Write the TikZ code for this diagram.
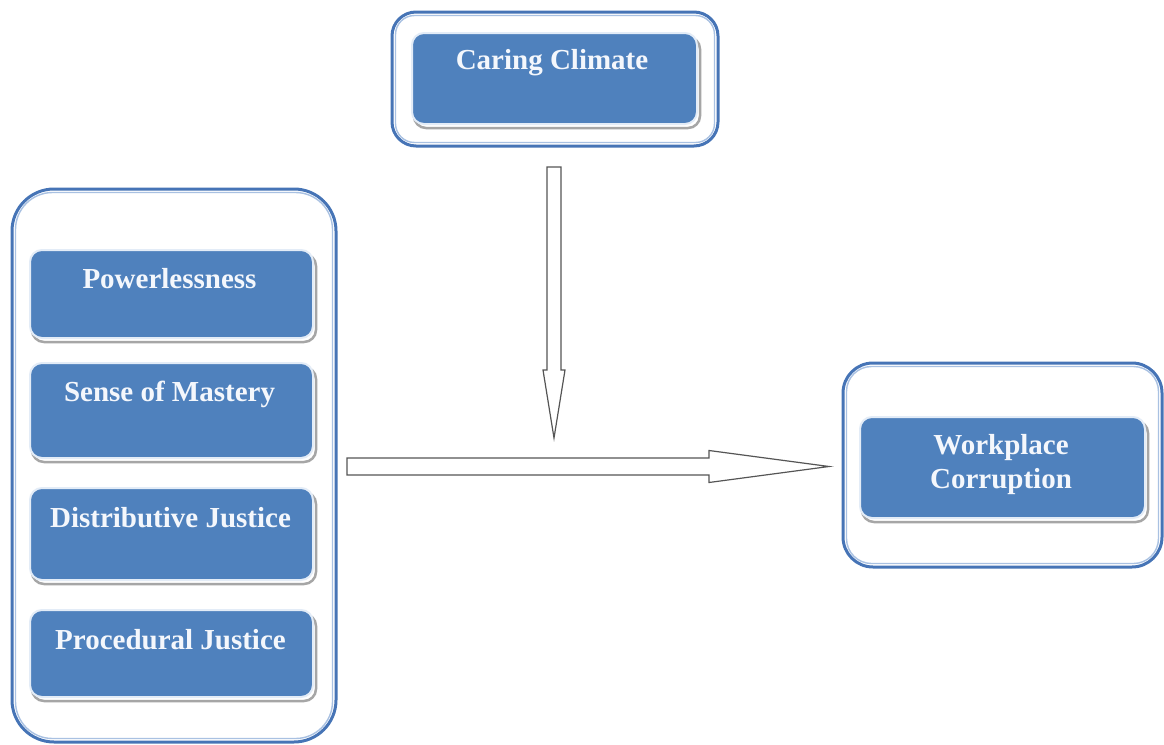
\documentclass[tikz,border=0pt]{standalone}
\usepackage{fontspec}
\setmainfont{Liberation Serif}
\usetikzlibrary{calc}
\definecolor{boxblue}{HTML}{4F81BD}
\definecolor{frameblue}{HTML}{4674B6}
\definecolor{rimblue}{HTML}{A9C1E2}
\definecolor{shadowgrey}{HTML}{A6A6A6}
\definecolor{glow}{HTML}{E3ECF7}
\definecolor{arrowgrey}{HTML}{555555}
\definecolor{labelwhite}{HTML}{F4F7FC}
\begin{document}
\begin{tikzpicture}[x=1pt,y=-1pt,
  frame/.style={draw=frameblue, line width=3pt, fill=white, rounded corners=#1, inner sep=0pt},
  rim/.style={draw=rimblue, line width=1.4pt, rounded corners=#1},
  varbox/.style={draw=glow, line width=2pt, fill=boxblue, rounded corners=12pt, inner sep=0pt},
  boxshadow/.style={draw=shadowgrey, line width=2.5pt, rounded corners=12pt},
  lbl/.style={text=labelwhite, font=\bfseries\fontsize{29}{34}\selectfont, align=center, inner sep=0pt},
  blockarrow/.style={draw=arrowgrey, line width=1.2pt, fill=white, line join=miter}]
\useasboundingbox (0,0) rectangle (1164,744);

% ---------- frames ----------
\node[frame=24pt, minimum width=326pt, minimum height=134pt] (ccframe) at (555,79) {};
\draw[rim=19pt] ($(ccframe.north west)+(5,5)$) rectangle ($(ccframe.south east)+(-5,-5)$);

\node[frame=42pt, minimum width=324pt, minimum height=553pt] (leftframe) at (174,465.5) {};
\draw[rim=37pt] ($(leftframe.north west)+(5,5)$) rectangle ($(leftframe.south east)+(-5,-5)$);

\node[frame=30pt, minimum width=319pt, minimum height=204pt] (wcframe) at (1002.5,465) {};
\draw[rim=25pt] ($(wcframe.north west)+(5,5)$) rectangle ($(wcframe.south east)+(-5,-5)$);

% ---------- inner boxes (shadow first) ----------
\foreach \cx/\cy/\w/\h in {554.5/78.5/285/91, 171.5/294/283/88, 171.5/410.5/283/95, 171.5/534/283/92, 171.5/653.5/283/87, 1002.5/467.5/285/101}{
  \draw[boxshadow] (\cx-\w/2+2,\cy-\h/2+4) rectangle (\cx+\w/2+3,\cy+\h/2+4);
}
\node[varbox, minimum width=285pt, minimum height=91pt]  (cc)   at (554.5,78.5) {};
\node[varbox, minimum width=283pt, minimum height=88pt]  (pow)  at (171.5,294) {};
\node[varbox, minimum width=283pt, minimum height=95pt]  (som)  at (171.5,410.5) {};
\node[varbox, minimum width=283pt, minimum height=92pt]  (dj)   at (171.5,534) {};
\node[varbox, minimum width=283pt, minimum height=87pt]  (pj)   at (171.5,653.5) {};
\node[varbox, minimum width=285pt, minimum height=101pt] (wc)   at (1002.5,467.5) {};

% ---------- labels ----------
\node[lbl] (cct)  at (552,63)  {Caring Climate};
\node[lbl] (powt) at (169.5,279) {Powerlessness};
\node[lbl] (somt) at (169.5,394) {Sense of Mastery};
\node[lbl] (djt)  at (170.5,518) {Distributive Justice};
\node[lbl] (pjt)  at (170.5,640) {Procedural Justice};
\node[lbl] (wct)  at (1001,465) {Workplace\\Corruption};

% ---------- block arrows ----------
\coordinate (vstart) at (554,167);
\coordinate (vtip)   at (554,438);
\draw[blockarrow] ($(vstart)+(-7,0)$) -- ($(vstart)+(7,0)$) -- ($(vtip)+(7,-68)$) -- ($(vtip)+(11,-68)$)
  -- (vtip) -- ($(vtip)+(-11,-68)$) -- ($(vtip)+(-7,-68)$) -- cycle;

\coordinate (hstart) at (347,466.5);
\coordinate (htip)   at (829,466.5);
\draw[blockarrow] ($(hstart)+(0,-8.5)$) -- ($(htip)+(-120,-8.5)$) -- ($(htip)+(-120,-16)$)
  -- (htip) -- ($(htip)+(-120,16)$) -- ($(htip)+(-120,8.5)$) -- ($(hstart)+(0,8.5)$) -- cycle;
\end{tikzpicture}
\end{document}
